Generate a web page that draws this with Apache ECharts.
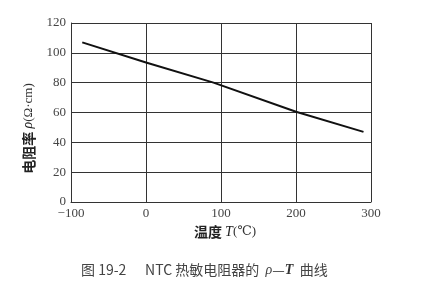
<!DOCTYPE html>
<html><head><meta charset="utf-8">
<script src="https://cdn.jsdelivr.net/npm/echarts@6/dist/echarts.min.js"></script>
<style>html,body{margin:0;padding:0;background:#fff}#c{width:424px;height:294px}</style>
</head><body><div id="c"></div>
<script>
const temperatures = [-85, 0, 90, 200, 290];
const resistivity = [107, 93.5, 80, 60.5, 47];
const xTicks = [-100, 0, 100, 200, 300];
const yTicks = [0, 20, 40, 60, 80, 100, 120];
const xName = '{c|温度 }{i|T}{s|(℃)}';
const yName = '{c|电阻率 }{i|ρ}{s|(Ω·cm)}';
const caption = '{c|图 19-2      NTC 热敏电阻器的  }{i|ρ}{c|—}{b|T}{c|  曲线}';

const chart = echarts.init(document.getElementById('c'), null, {renderer: 'canvas'});
const serif = '"Liberation Serif","DejaVu Serif",serif';
const cjk = '"Noto Sans CJK SC","Liberation Serif",serif';
const nameRich = {
  c: {fontFamily: cjk, fontSize: 14, fontWeight: 'bold', color: '#222'},
  i: {fontFamily: serif, fontSize: 14, fontStyle: 'italic', color: '#222'},
  s: {fontFamily: serif, fontSize: 13, color: '#333'}
};
chart.setOption({
  animation: false,
  backgroundColor: '#fff',
  grid: {left: 71, right: 53, top: 23, bottom: 92},
  title: {
    text: caption, left: 76, top: 258,
    textStyle: {
      fontWeight: 'normal',
      rich: {
        c: {fontFamily: cjk, fontSize: 14, fontWeight: 'normal', color: '#444'},
        i: {fontFamily: serif, fontSize: 14, fontStyle: 'italic', fontWeight: 'normal', color: '#444'},
        b: {fontFamily: serif, fontSize: 14, fontStyle: 'italic', fontWeight: 'bold', color: '#333'}
      }
    }
  },
  xAxis: {
    type: 'value', min: xTicks[0], max: xTicks[xTicks.length - 1], interval: 100,
    name: xName, nameLocation: 'middle', nameGap: 17,
    nameTextStyle: {rich: nameRich, padding: [0, 0, 0, 8]},
    axisLine: {show: true, onZero: false, lineStyle: {color: '#333', width: 1}},
    axisTick: {show: false},
    axisLabel: {margin: 5, fontFamily: serif, fontSize: 13, color: '#444',
      formatter: v => String(v).replace('-', '−')},
    splitLine: {show: true, lineStyle: {color: '#333', width: 1}}
  },
  yAxis: {
    type: 'value', min: yTicks[0], max: yTicks[yTicks.length - 1], interval: 20,
    name: yName, nameLocation: 'middle', nameGap: 27,
    nameTextStyle: {rich: nameRich, padding: [0, 32, 0, 0]},
    axisLine: {show: true, onZero: false, lineStyle: {color: '#333', width: 1}},
    axisTick: {show: false},
    axisLabel: {margin: 5, fontFamily: serif, fontSize: 13, color: '#444'},
    splitLine: {show: true, lineStyle: {color: '#333', width: 1}}
  },
  series: [{
    type: 'line',
    data: temperatures.map((t, i) => [t, resistivity[i]]),
    symbol: 'none',
    lineStyle: {color: '#111', width: 2}
  }]
});
</script></body></html>
